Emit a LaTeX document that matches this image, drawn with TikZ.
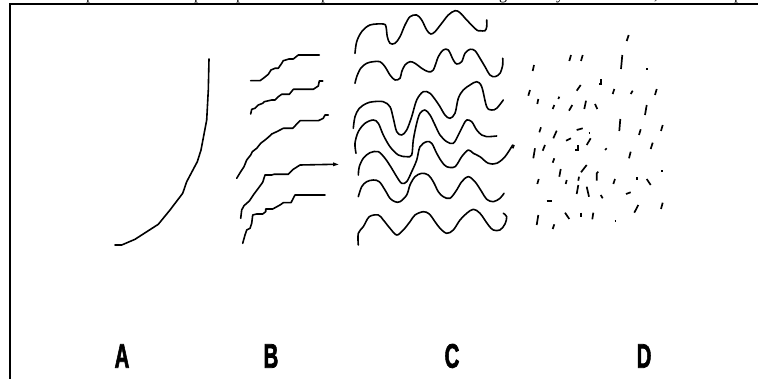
\documentclass[tikz,border=0pt]{standalone}
\usepackage{fontspec}
\setmainfont{Liberation Serif}
\newfontfamily\labelfont[FakeBold=2.5]{Liberation Sans}
\begin{document}
\begin{tikzpicture}[x=1pt,y=-1pt,
  ink/.style={line width=1.6pt,line join=round,line cap=round},
  tick/.style={line width=1.7pt,line cap=butt},
  panel/.style={font=\labelfont\bfseries\fontsize{34}{34}\selectfont,inner sep=0pt},
  cutline/.style={font=\fontsize{16}{16}\selectfont,inner sep=0pt,anchor=base}]
\useasboundingbox (0,0) rectangle (758,379);

% descenders of the line of text above the frame
\begin{scope}
  \clip (0,0) rectangle (758,4);
  \foreach \x/\ch in {90/p,198/p,240/p,325/p,503/g,560/y,656/{,},738/p}
    \node[cutline] at (\x,-0.5) {\ch};
\end{scope}

% frame
\draw[line width=1.6pt] (10,379) -- (10,4) -- (758,4);

% A: a single rising curve
\draw[ink] (115,245) -- (121.7,245) -- (135,239.3) -- (158.3,224.3) -- (170,210)
  -- (182.7,193.3) -- (186.7,181.7) -- (197.3,161.7) -- (201,150) -- (206.7,120)
  -- (208.3,90) -- (209,59);

% B: stepped curves
\draw[ink] (250.7,80.7) -- (260,80.7) -- (263.3,78.3) -- (268.3,74.3) -- (271,70)
  -- (275,68.3) -- (278.3,68.3) -- (281.7,63.3) -- (283.3,60.7) -- (289,59)
  -- (293.3,59) -- (298.3,55) -- (319.3,55);
\draw[ink] (250.7,114) -- (251.7,109.3) -- (255,108.3) -- (258.3,105) -- (262.7,103.3)
  -- (264.3,101.7) -- (271.7,100) -- (275,100) -- (278.3,96.7) -- (281.7,94.3)
  -- (289.3,94.3) -- (293.3,89.3) -- (313.3,89.3) -- (318.3,86) -- (319.3,81) -- (322.7,81);
\draw[ink] (236.7,178.3) -- (240.7,171.7) -- (244,166.7) -- (246.7,160) -- (250.7,155)
  -- (252.3,151.7) -- (256.7,148.3) -- (260.7,143.3) -- (265,140) -- (268.3,137.3)
  -- (271.7,134) -- (276.7,131.7) -- (283.3,128.3) -- (292.7,128.3) -- (300,120.7)
  -- (318.3,120.7) -- (323.3,118.3) -- (325,115) -- (328.3,115);
\draw[ink] (240.7,218.3) -- (241.7,210) -- (244,205.7) -- (249.3,201) -- (253.3,195)
  -- (258.3,188.3) -- (262.7,182.3) -- (265,175) -- (271.7,175) -- (274,174.3)
  -- (288.3,174.3) -- (293.3,169.3) -- (300,165) -- (335,164.3);
\fill (333,162.3) -- (338.5,164.5) -- (333,166.3) -- cycle;
\draw[ink] (242.7,243.3) -- (245,235) -- (246.7,230) -- (250,228.3) -- (251.7,223.3)
  -- (252.7,215) -- (256.7,214) -- (262.7,214) -- (265.7,211.7) -- (265.7,209)
  -- (272.7,209) -- (280,205) -- (283.3,202.7) -- (291,202.7) -- (295,195) -- (325,195);

% C: wavy curves
\draw[ink] plot[smooth,tension=0.55] coordinates {(355,53.3) (356.7,41.7) (361.7,31.7) (370,25)
  (383.3,24) (386,26.7) (387.3,36.7) (390,43.3) (395,43.3) (400,36.7) (405,25) (410,16.7)
  (416.7,15) (421.7,20) (426.7,30) (430.7,34) (435,31.7) (441.7,23.3) (448.3,15) (455,10.7)
  (460,12.7) (466.7,20) (476.7,30) (480,30.7) (485,30.7) (486.7,26.7) (486.7,20)};
\draw[ink] plot[smooth,tension=0.55] coordinates {(355,83.3) (356.7,76.7) (360.7,68.3) (366.7,63.3)
  (373.3,61.7) (380,61.7) (385,66.7) (390,75) (395,80) (400,78.3) (401.7,71.7) (405,65)
  (410,61.7) (415,63.3) (421.7,68.3) (428.3,71.7) (433.3,70) (438.3,56.7) (443.3,50)
  (448.3,50) (453.3,60) (456.7,64) (461.7,61.7) (465,53.3) (470,49.3) (475,50.7) (480,58.3)
  (485,66.7) (490,75) (495,76.7) (500,73.3) (502.7,65) (502.7,58.3)};
\draw[ink] plot[smooth,tension=0.55] coordinates {(353.3,128.3) (355,116.7) (359.3,108.3) (366.7,103.3)
  (373.3,101.7) (383.3,101.7) (390,106.7) (393.3,118.3) (396.7,131.7) (401.7,135) (406.7,130)
  (411.7,116.7) (416.7,100) (423.3,91.7) (430,93.3) (436.7,101.7) (440,106.7) (445,115)
  (450,118.3) (455,113.3) (458.3,98.3) (463.3,90) (470,85) (476.7,81.7) (481.7,86.7)
  (486.7,106.7) (491.7,110) (496.7,108.3) (503.3,100)};
\draw[ink] plot[smooth,tension=0.55] coordinates {(356,153.3) (355,143.3) (358.3,131.7) (365,123.3)
  (373.3,120) (378.3,123.3) (383.3,135) (390,146.7) (398.3,155) (406.7,156.7) (411.7,155)
  (413.3,140) (416.7,123.3) (420,113.3) (425,110) (430,115) (435,125) (440,135) (446.7,141.7)
  (453.3,143.3) (458.3,135) (463.3,125) (466.7,120) (471.7,121.7) (476.7,130) (481.7,135)
  (486.7,136.7) (496.7,136)};
\draw[ink] plot[smooth,tension=0.55] coordinates {(358.3,175) (359.3,166.7) (363.3,158.3) (370,152.7)
  (378.3,151.7) (385,158.3) (391.7,168.3) (396.7,176.7) (401.7,183.3) (406.7,181.7)
  (411.7,171.7) (416.7,160) (420,146.7) (426.7,141.7) (431.7,143.3) (436.7,153.3)
  (441.7,161.7) (446.7,166.7) (455,166.7) (461.7,156.7) (468.3,150) (473.3,153.3) (480,156.7)
  (488.3,163.3) (496.7,163.3) (505,156.7) (512.7,145)};
\draw[ink] plot[smooth,tension=0.55] coordinates {(358.3,196.7) (361.7,186.7) (366.7,181.7) (373.3,180)
  (379.3,181.7) (385,190) (390,198.3) (395,201.7) (400,201.7) (406.7,195) (410,185) (415,176.7)
  (421.7,173.3) (428.3,175) (433.3,181.7) (438.3,191.7) (443.3,196.7) (450,198.3) (456.7,190)
  (461.7,181.7) (468.3,176.7) (475,181.7) (481.7,191.7) (486.7,199.3) (493.3,201.7) (500,198.3)
  (504,193.3)};
\draw[ink] plot[smooth,tension=0.55] coordinates {(358.3,245) (358.3,233.3) (363.3,226.7) (369.3,216.7)
  (378.3,215) (383.3,220) (390,228.3) (396.7,235) (403.3,230) (410,221.7) (415,215) (423.3,211.7)
  (429.3,214) (435,221.7) (440,228.3) (446.7,233.3) (453.3,230) (460,220) (466.7,213.3)
  (473.3,209.3) (480,213.3) (488.3,225) (493.3,230) (500,230) (505,224) (506.7,216.7) (503.3,213.3)};

% D: scattered short strokes
\foreach \xa/\ya/\xb/\yb in {
  626.7/41/628.7/35, 569.3/61/571/55, 581/61/582.7/55, 621/69/622.3/55,
  646/69/647.5/69, 532.7/71/534/65, 576.7/90.7/580.7/85, 612.7/94/614.3/89,
  630.7/94/632.7/90.7, 655/95/656.7/89, 528.3/95.7/530/90, 537.3/104/538.3/99,
  558.3/99/559.3/96.7, 552.7/109/554.3/105, 569/110.7/572.3/105, 584.3/109/586/100.7,
  595/104/597.3/109, 645/115/646.7/105, 619.3/131/620.3/119, 539.3/132.3/541/127.3,
  553.3/138.3/556.7/130.7, 576.7/130/582.7/128.3, 588.5/132.7/590/132.7,
  639/135/640.7/129.3, 661/131/662.7/125, 566/140.7/571/138.3, 586.7/145/590.7/138.3,
  512.7/148.3/514/145, 533.3/158.3/535/148.3, 542.7/150.7/545/145,
  605/150/606.7/148.3, 650.7/149/652.7/142.7, 629/158.3/630.7/151.7,
  552.7/162.7/554.3/158.3, 559.3/176.7/560.7/169, 565.7/184/566.7/180,
  581/172.3/586.7/165, 578.3/180.7/579/176.7, 613.3/184/615/179,
  636.7/180/636.7/176.7, 646.7/179/650.7/185, 661/170.7/663.3/170.7,
  537.3/184/538.7/179, 576.7/194/578.3/185, 586.7/186.7/589/196.7,
  600.7/195/602.7/198.3, 626/194/630.7/192.3, 546.7/200.7/551.7/200.7,
  634.3/212.7/638.3/205, 661/209/662.7/202.7, 536.7/225/538.3/215,
  552.7/229/554.3/224.3, 565/212.7/569.3/219, 580.7/212.7/580.7/216.7,
  593.3/212.7/592.3/219.3, 614.5/220.7/616/220.7}
  \draw[tick] (\xa,\ya) -- (\xb,\yb);
\draw[tick,line join=miter] (599,84.3) -- (601,84.3) -- (601,79.3);
\draw[tick,line join=miter] (575,150) -- (577.7,150) -- (577.7,145);
\draw[tick,line join=round] (596.7,180.7) -- (596.7,173.3) -- (598.3,171.7);

% panel letters
\node[panel] (lA) at (122,356) {\scalebox{0.6}[1]{A}};
\node[panel] (lB) at (271,356) {\scalebox{0.6}[1]{B}};
\node[panel] (lC) at (452,356) {\scalebox{0.6}[1]{C}};
\node[panel] (lD) at (644,356) {\scalebox{0.6}[1]{D}};
\end{tikzpicture}
\end{document}
